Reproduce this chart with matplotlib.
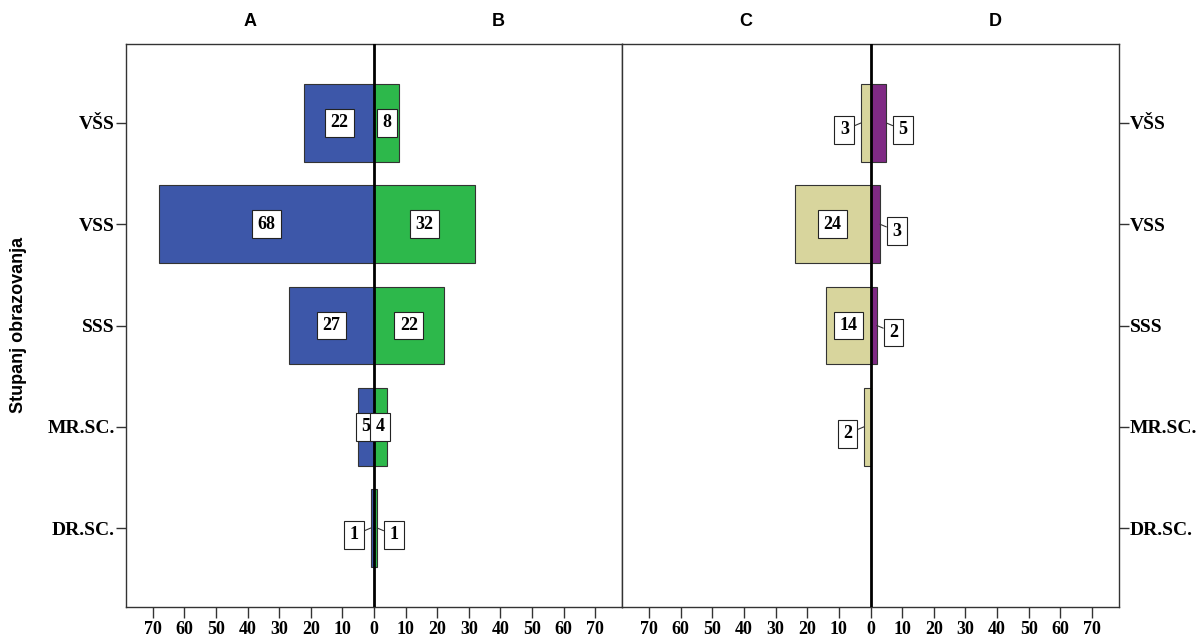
import matplotlib.pyplot as plt
import numpy as np

# stupnjevi obrazovanja, odozgo prema dolje
kategorije = ['VŠS', 'VSS', 'SSS', 'MR.SC.', 'DR.SC.']

grupa_a = [22, 68, 27, 5, 1]
grupa_b = [8, 32, 22, 4, 1]
grupa_c = [3, 24, 14, 2, 0]
grupa_d = [5, 3, 2, 0, 0]

ticks_x = [-70, -60, -50, -40, -30, -20, -10, 0, 10, 20, 30, 40, 50, 60, 70]

boja_a = '#3D57A9'
boja_b = '#2DB84B'
boja_c = '#D8D59D'
boja_d = '#7F2A84'

SERIF = 'Liberation Serif'
SANS = 'Liberation Sans'
XMAX = 78.5


def oznaka(ax, y, val, strana, prag):
    # broj u bijelom okviru; uski stupci dobivaju oznaku sa strane i crticu
    x = val * strana
    box = dict(boxstyle='square,pad=0.3', fc='white', ec='#222222', lw=0.8)
    if val >= prag:
        ax.text(x / 2, y, str(val), ha='center', va='center', fontsize=13,
                fontweight='bold', family=SERIF, bbox=box, zorder=5)
    else:
        ax.annotate(str(val), xy=(x, y), xytext=(12 * strana, -5),
                    textcoords='offset points', ha='center', va='center',
                    fontsize=13, fontweight='bold', family=SERIF, bbox=box,
                    arrowprops=dict(arrowstyle='-', color='#333333', lw=0.8,
                                    shrinkA=0, shrinkB=0), zorder=5)


def piramida(ax, lijevo, desno, boja_l, boja_d, naslovi, prag):
    y = np.arange(len(kategorije))
    ax.barh(y, [-v for v in lijevo], height=0.77, color=boja_l,
            edgecolor='#333333', linewidth=0.8, zorder=2)
    ax.barh(y, desno, height=0.77, color=boja_d,
            edgecolor='#333333', linewidth=0.8, zorder=2)
    ax.axvline(0, color='black', lw=2, zorder=4)

    for i in range(len(kategorije)):
        if lijevo[i] > 0:
            oznaka(ax, y[i], lijevo[i], -1, prag)
        if desno[i] > 0:
            oznaka(ax, y[i], desno[i], 1, prag)

    ax.set_xlim(-XMAX, XMAX)
    ax.set_ylim(len(kategorije) - 0.22, -0.78)
    ax.set_xticks(ticks_x)
    ax.set_xticklabels([str(abs(t)) for t in ticks_x], fontsize=13,
                       fontweight='bold', family=SERIF)
    ax.tick_params(axis='x', length=8, width=1, color='#333333', pad=2)

    for s in ax.spines.values():
        s.set_color('#333333')
        s.set_linewidth(1)

    ax.text(-XMAX / 2, 1.025, naslovi[0], transform=ax.get_xaxis_transform(),
            ha='center', va='bottom', fontsize=13, fontweight='bold', family=SANS)
    ax.text(XMAX / 2, 1.025, naslovi[1], transform=ax.get_xaxis_transform(),
            ha='center', va='bottom', fontsize=13, fontweight='bold', family=SANS)


fig = plt.figure(figsize=(12.02, 6.37), dpi=100)
ax1 = fig.add_axes([126 / 1202, 30 / 637, 496 / 1202, 563 / 637])
ax2 = fig.add_axes([622 / 1202, 30 / 637, 497 / 1202, 563 / 637])

piramida(ax1, grupa_a, grupa_b, boja_a, boja_b, ('A', 'B'), 4)
piramida(ax2, grupa_c, grupa_d, boja_c, boja_d, ('C', 'D'), 6)

y = np.arange(len(kategorije))
ax1.set_yticks(y)
ax1.set_yticklabels(kategorije, fontsize=14, fontweight='bold', family=SERIF)
ax1.tick_params(axis='y', length=7, width=1, color='#333333', pad=1)

ax2.yaxis.tick_right()
ax2.set_yticks(y)
ax2.set_yticklabels(kategorije, fontsize=14, fontweight='bold', family=SERIF)
ax2.tick_params(axis='y', length=7, width=1, color='#333333', pad=1)

fig.text(0.015, 0.49, 'Stupanj obrazovanja', rotation=90, ha='center',
         va='center', fontsize=13, fontweight='bold', family=SANS)

fig.savefig('out.png', dpi=100)
